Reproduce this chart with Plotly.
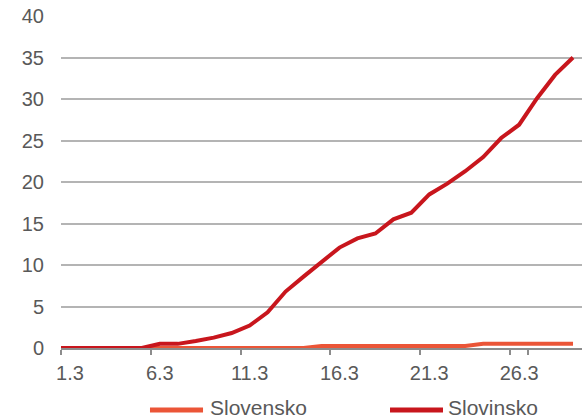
import plotly.graph_objects as go

dates = ["29.2", "1.3", "2.3", "3.3", "4.3", "5.3", "6.3", "7.3", "8.3", "9.3", "10.3",
         "11.3", "12.3", "13.3", "14.3", "15.3", "16.3", "17.3", "18.3", "19.3", "20.3",
         "21.3", "22.3", "23.3", "24.3", "25.3", "26.3", "27.3", "28.3", "29.3"]
slovensko = [0, 0, 0, 0, 0, 0, 0, 0, 0, 0, 0,
             0, 0, 0, 0, 0.25, 0.25, 0.25, 0.25, 0.25, 0.25,
             0.25, 0.25, 0.25, 0.5, 0.5, 0.5, 0.5, 0.5, 0.5]
slovinsko = [0, 0, 0, 0, 0, 0, 0.5, 0.5, 0.85, 1.25, 1.8,
             2.7, 4.3, 6.8, 8.6, 10.4, 12.1, 13.2, 13.8, 15.5, 16.3,
             18.5, 19.8, 21.3, 23.0, 25.3, 26.9, 30.1, 32.9, 35.0]
series_names = ["Slovensko", "Slovinsko"]
series_colors = ["#EB5537", "#C8161D"]
tick_labels = ["1.3", "6.3", "11.3", "16.3", "21.3", "26.3"]
y_ticks = [0, 5, 10, 15, 20, 25, 30, 35, 40]

FONT = "Liberation Sans, Arial, sans-serif"
GRAY = "#595959"

fig = go.Figure()
for name, vals, col in zip(series_names, [slovensko, slovinsko], series_colors):
    fig.add_trace(go.Scatter(x=dates, y=vals, mode="lines", name=name,
                             line=dict(color=col, width=4), showlegend=False))

# custom legend below the plot (paper coordinates)
legend_line_y = -0.187
legend_text_y = -0.180
legend_items = [(0.1708, 0.2726, 0.284), (0.6315, 0.7332, 0.741)]
for (x0, x1, xt), name, col in zip(legend_items, series_names, series_colors):
    fig.add_shape(type="line", xref="paper", yref="paper", x0=x0, x1=x1,
                  y0=legend_line_y, y1=legend_line_y, line=dict(color=col, width=5))
    fig.add_annotation(xref="paper", yref="paper", x=xt, y=legend_text_y, text=name,
                       showarrow=False, xanchor="left", yanchor="middle", borderpad=0,
                       font=dict(size=21, color=GRAY, family=FONT))

fig.update_layout(
    width=585, height=420,
    margin=dict(l=61, r=3, t=16, b=72),
    paper_bgcolor="white", plot_bgcolor="white",
    font=dict(family=FONT, size=20, color=GRAY),
    showlegend=False,
)
fig.update_xaxes(
    type="category", range=[0.5, len(dates) - 0.5], automargin=False,
    tickmode="array", tickvals=tick_labels, ticktext=tick_labels, tickangle=0,
    tickson="boundaries", ticks="outside", ticklen=5, tickcolor="#8c8c8c", tickwidth=1.5,
    showline=True, linecolor="#8c8c8c", linewidth=1.5,
    showgrid=False, zeroline=False, ticklabelstandoff=6,
    tickfont=dict(size=20, color=GRAY, family=FONT),
)
fig.update_yaxes(
    range=[0, 40], tickmode="array", tickvals=y_ticks, automargin=False,
    showgrid=True, gridcolor="#b4b4b4", gridwidth=1.5,
    zeroline=False, showline=False, ticks="", ticklabelstandoff=16,
    tickfont=dict(size=20, color=GRAY, family=FONT),
)

fig.write_html("out.html")
